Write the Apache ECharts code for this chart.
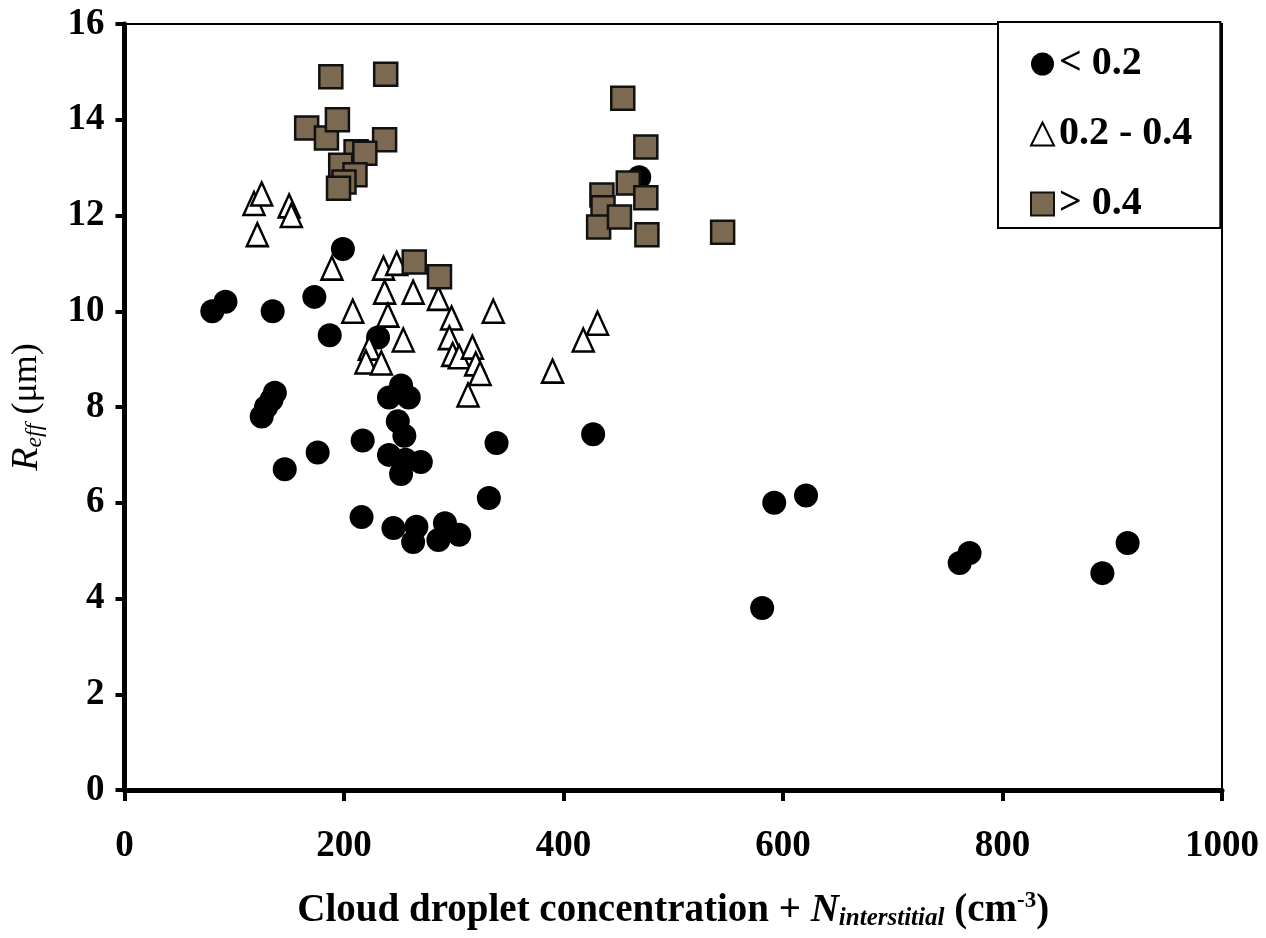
<!DOCTYPE html>
<html>
<head>
<meta charset="utf-8">
<script src="https://cdn.jsdelivr.net/npm/echarts@6/dist/echarts.min.js"></script>
<style>
html,body{margin:0;padding:0;background:#fff;}
#chart{width:1266px;height:938px;}
</style>
</head>
<body>
<div id="chart"></div>
<script>
// Series names (legend)
var seriesNames = ['< 0.2', '0.2 - 0.4', '> 0.4'];

// < 0.2 (black circles): [N, Reff]
var lowData = [
  [80,10.0],[92,10.2],[135,10.0],[173,10.3],[187,9.5],[199,11.3],[231,9.45],
  [125,7.8],[129,8.0],[134,8.15],[137,8.3],
  [146,6.7],[176,7.05],[217,7.3],[216,5.7],
  [241,8.2],[252,8.45],[259,8.2],[249,7.7],[255,7.4],[241,7.0],[252,6.6],[256,6.9],[270,6.85],
  [245,5.47],[266,5.5],[263,5.18],[292,5.57],[286,5.22],[305,5.33],
  [332,6.1],[339,7.25],[427,7.43],[469,12.8],
  [592,6.0],[621,6.15],[581,3.8],[761,4.74],[770,4.95],[891,4.53],[914,5.16]
];

// 0.2 - 0.4 (open triangles)
var midData = [
  [118,12.25],[125,12.45],[121,11.6],[150,12.2],[152,12.0],
  [189,10.9],[236,10.9],[248,11.0],[237,10.4],[263,10.4],[286,10.27],
  [208,10.0],[240,9.92],[298,9.86],[336,10.0],
  [254,9.4],[223,9.23],[220,8.94],[234,8.92],
  [296,9.45],[299,9.1],[305,9.05],[317,9.25],[320,8.9],[324,8.7],[313,8.25],
  [390,8.75],[418,9.4],[431,9.75]
];

// > 0.4 (brown squares)
var highData = [
  [188,14.9],[238,14.95],[166,13.83],[184,13.62],[194,14.0],[237,13.58],
  [211,13.33],[219,13.3],[197,13.05],[210,12.85],[200,12.7],[195,12.57],
  [264,11.03],[287,10.72],
  [454,14.45],[475,13.43],[459,12.68],[475,12.37],[435,12.43],[436,12.16],
  [432,11.76],[451,11.97],[476,11.6],[545,11.65]
];

// Axis ticks
var xTicks = [0,200,400,600,800,1000];
var yTicks = [0,2,4,6,8,10,12,14,16];

var FONT = '"Liberation Serif","Times New Roman",serif';

var chart = echarts.init(document.getElementById('chart'));
chart.setOption({
  backgroundColor: '#ffffff',
  animation: false,
  textStyle: {fontFamily: FONT},
  grid: {left: 123, right: 44, top: 24, bottom: 148, show: true,
         borderColor: '#000', borderWidth: 2, backgroundColor: 'transparent'},
  legend: {
    orient: 'vertical',
    left: 998, top: 22,
    padding: [22, 28, 4, 32],
    itemGap: 30,
    itemWidth: 23, itemHeight: 23,
    borderColor: '#000', borderWidth: 2,
    backgroundColor: '#fff',
    textStyle: {fontFamily: FONT, fontSize: 40, fontWeight: 'bold', color: '#000', lineHeight: 38},
    data: seriesNames
  },
  xAxis: {
    type: 'value', min: xTicks[0], max: xTicks[xTicks.length-1], interval: 200,
    axisLine: {show: true, lineStyle: {color: '#000', width: 5}},
    axisTick: {show: true, inside: false, length: 11, lineStyle: {color: '#000', width: 4}},
    splitLine: {show: false},
    axisLabel: {margin: 38, fontFamily: FONT, fontSize: 37, fontWeight: 'bold', color: '#000',
                formatter: function (v) { return String(v); }},
    name: 'Cloud droplet concentration + {i|N}{sub|interstitial} (cm{sup|-3})',
    nameLocation: 'middle', nameGap: 100,
    nameTextStyle: {
      fontFamily: FONT, fontSize: 39, fontWeight: 'bold', color: '#000',
      rich: {
        i: {fontFamily: FONT, fontSize: 39, fontWeight: 'bold', fontStyle: 'italic', color: '#000'},
        sub: {fontFamily: FONT, fontSize: 25, fontWeight: 'bold', fontStyle: 'italic', color: '#000', verticalAlign: 'bottom', padding: [16,0,0,0]},
        sup: {fontFamily: FONT, fontSize: 23, fontWeight: 'bold', color: '#000', verticalAlign: 'top', padding: [0,0,16,0]}
      }
    }
  },
  yAxis: {
    type: 'value', min: yTicks[0], max: yTicks[yTicks.length-1], interval: 2,
    axisLine: {show: true, lineStyle: {color: '#000', width: 5}},
    axisTick: {show: true, inside: false, length: 9, lineStyle: {color: '#000', width: 4}},
    splitLine: {show: false},
    axisLabel: {margin: 20, fontFamily: FONT, fontSize: 37, fontWeight: 'bold', color: '#000'},
    name: '{i|R}{sub|eff} (μm)',
    nameLocation: 'middle', nameGap: 78, nameRotate: 90,
    nameTextStyle: {
      fontFamily: FONT, fontSize: 36, color: '#000',
      rich: {
        i: {fontFamily: FONT, fontSize: 38, fontStyle: 'italic', color: '#000'},
        sub: {fontFamily: FONT, fontSize: 24, fontStyle: 'italic', color: '#000', verticalAlign: 'bottom', padding: [15,0,0,0]}
      }
    }
  },
  series: [
    {
      name: seriesNames[0], type: 'scatter', symbol: 'circle', symbolSize: 24,
      itemStyle: {color: '#000', opacity: 1},
      data: lowData, z: 2
    },
    {
      name: seriesNames[1], type: 'scatter', symbol: 'triangle', symbolSize: [21, 23],
      itemStyle: {color: '#fff', borderColor: '#000', borderWidth: 2.5, opacity: 1},
      data: midData, z: 3
    },
    {
      name: seriesNames[2], type: 'scatter', symbol: 'rect', symbolSize: 23,
      itemStyle: {color: '#7b6a51', borderColor: '#111', borderWidth: 2.5, opacity: 1},
      data: highData, z: 4
    }
  ]
});
</script>
</body>
</html>
